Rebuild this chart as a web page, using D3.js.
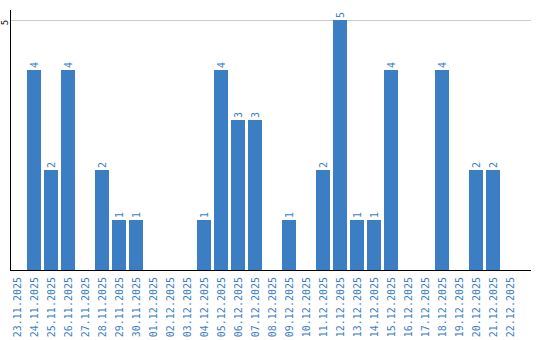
<!DOCTYPE html>
<html><head><meta charset="utf-8">
<script src="https://cdn.jsdelivr.net/npm/d3@7"></script>
<style>body{margin:0;background:#fff}svg{display:block}</style>
</head><body>
<script>
const dates = ["23.11.2025","24.11.2025","25.11.2025","26.11.2025","27.11.2025","28.11.2025","29.11.2025","30.11.2025","01.12.2025","02.12.2025","03.12.2025","04.12.2025","05.12.2025","06.12.2025","07.12.2025","08.12.2025","09.12.2025","10.12.2025","11.12.2025","12.12.2025","13.12.2025","14.12.2025","15.12.2025","16.12.2025","17.12.2025","18.12.2025","19.12.2025","20.12.2025","21.12.2025","22.12.2025"];
const values = [0,4,2,4,0,2,1,1,0,0,0,1,4,3,3,0,1,0,2,5,1,1,4,0,0,4,0,2,2,0];
const yTicks = [5];

(function () {
const W = 540, H = 340;
const mLeft = 10, mRight = 531, mTop = 10, mBottom = 270;
const blue = "#3b7ec4";
const svg = d3.select("body").append("svg").attr("width", W).attr("height", H);

const x = d3.scaleBand().domain(dates).range([mLeft, mLeft + 17 * dates.length - 3]).paddingInner(3/17).paddingOuter(0);
const y = d3.scaleLinear().domain([0, 5]).range([mBottom, 20]);

const rows = values.map((v, i) => ({v, d: dates[i]}));

// grid
svg.append("g").selectAll("line").data(yTicks).join("line")
  .attr("x1", mLeft).attr("x2", mRight)
  .attr("y1", d => y(d) + 0.5).attr("y2", d => y(d) + 0.5)
  .attr("stroke", "#cccccc").attr("stroke-width", 1);

// bars
svg.append("g").selectAll("rect").data(rows).join("rect")
  .attr("x", d => Math.round(x(d.d))).attr("width", Math.round(x.bandwidth()))
  .attr("y", d => y(d.v)).attr("height", d => mBottom - y(d.v))
  .attr("fill", blue).attr("shape-rendering", "crispEdges");

// value labels
svg.append("g").selectAll("text").data(rows.filter(d => d.v > 0)).join("text")
  .attr("transform", d => `translate(${Math.round(x(d.d)) + 7},${y(d.v) - 2}) rotate(-90)`)
  .attr("dy", "0.35em")
  .attr("text-anchor", "start")
  .attr("font-family", "DejaVu Sans Mono")
  .attr("font-size", 10)
  .attr("fill", blue)
  .text(d => d.v);

// axes lines
svg.append("line").attr("x1", mLeft + 0.5).attr("x2", mLeft + 0.5).attr("y1", mTop).attr("y2", mBottom + 1)
  .attr("stroke", "#000").attr("stroke-width", 1);
svg.append("line").attr("x1", mLeft).attr("x2", mRight).attr("y1", mBottom + 0.5).attr("y2", mBottom + 0.5)
  .attr("stroke", "#000").attr("stroke-width", 1);

// y tick labels
svg.append("g").selectAll("text").data(yTicks).join("text")
  .attr("transform", d => `translate(5,${y(d) + 2.5}) rotate(-90)`)
  .attr("dy", "0.35em")
  .attr("text-anchor", "middle")
  .attr("font-family", "DejaVu Sans Mono")
  .attr("font-size", 9)
  .attr("fill", "#000")
  .text(d => d);

// x labels
svg.append("g").selectAll("text").data(dates).join("text")
  .attr("transform", d => `translate(${Math.round(x(d)) + 7},277) rotate(-90)`)
  .attr("dy", "0.35em")
  .attr("text-anchor", "end")
  .attr("font-family", "DejaVu Sans Mono")
  .attr("font-size", 10)
  .attr("fill", blue)
  .text(d => d);
})();
</script>
</body></html>
